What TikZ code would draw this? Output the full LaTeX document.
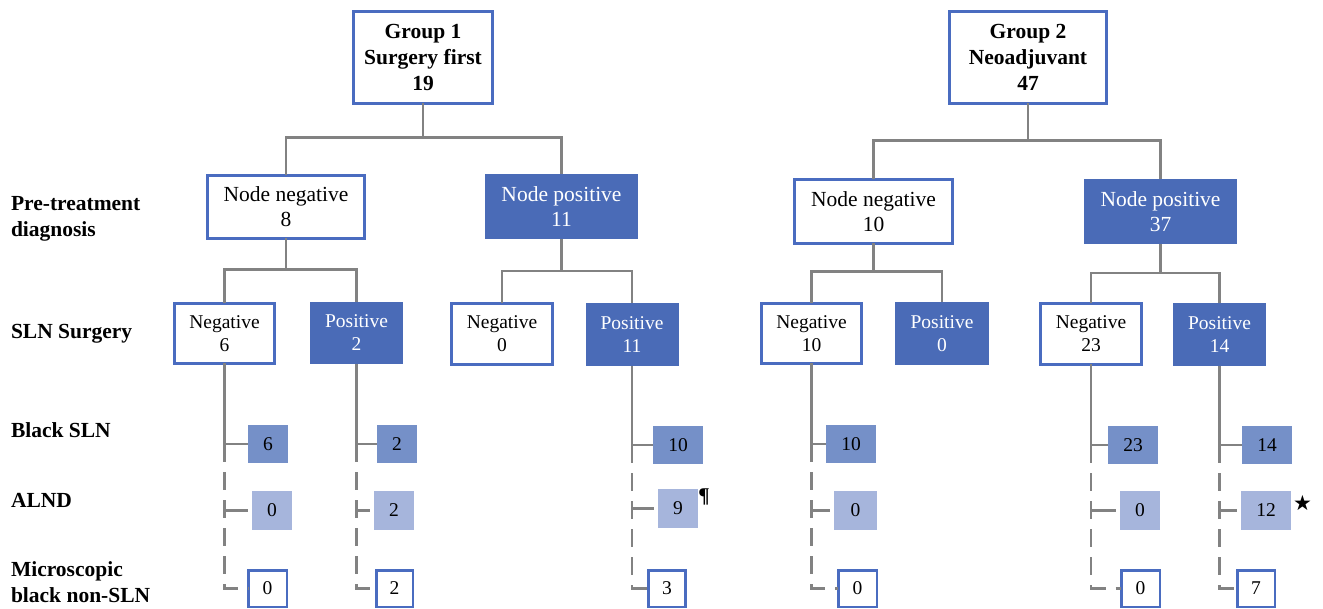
\documentclass[tikz,border=0pt]{standalone}
\usepackage{fontspec}
\setmainfont{Liberation Serif}
\newfontfamily\symfont{DejaVu Sans}
\definecolor{darkc}{HTML}{4A6BB7}
\definecolor{medc}{HTML}{7590C8}
\definecolor{lightc}{HTML}{A6B5DC}
\definecolor{bordc}{HTML}{4A6CC0}
\definecolor{linec}{HTML}{828282}
\newcommand{\ftitle}{\fontsize{21.5}{26}\selectfont\bfseries}
\newcommand{\fmid}{\fontsize{21.5}{25}\selectfont}
\newcommand{\fsln}{\fontsize{19.5}{23}\selectfont}
\begin{document}
\begin{tikzpicture}[x=1pt,y=-1pt,
  every node/.style={inner sep=0pt, outer sep=0pt, align=center},
  wbox/.style={draw=bordc, line width=2.8pt, fill=white},
  dbox/.style={fill=darkc, text=white},
  sbox/.style={fill=medc, font=\fsln, minimum height=38},
  abox/.style={fill=lightc, font=\fsln, minimum height=39},
  mbox/.style={draw=bordc, line width=2.5pt, fill=white, font=\fsln, minimum height=36.5},
  lab/.style={font=\ftitle, align=left},
  conn/.style={draw=linec, line width=2.7pt},
  dconn/.style={conn, dash pattern=on 18pt off 10pt}]
\useasboundingbox (0,0) rectangle (1323,609);

% top level
\node[wbox, font=\ftitle, minimum width=139, minimum height=92] (g1) at (423,57.5) {Group 1\\Surgery first\\19};
\node[wbox, font=\ftitle, minimum width=157, minimum height=92] (g2) at (1028,57.5) {Group 2\\Neoadjuvant\\47};

% pre-treatment diagnosis
\node[wbox, font=\fmid, minimum width=157, minimum height=63] (nn1) at (286,207) {Node negative\\8};
\node[dbox, font=\fmid, minimum width=153, minimum height=65] (np1) at (561.5,206.5) {Node positive\\11};
\node[wbox, font=\fmid, minimum width=158, minimum height=64] (nn2) at (873.5,211.5) {Node negative\\10};
\node[dbox, font=\fmid, minimum width=153, minimum height=65] (np2) at (1160.5,211.5) {Node positive\\37};

% SLN surgery
\node[wbox, font=\fsln, minimum width=100, minimum height=60] (a1) at (224.5,333.5) {Negative\\6};
\node[dbox, font=\fsln, minimum width=93, minimum height=62] (a2) at (356.5,333) {Positive\\2};
\node[wbox, font=\fsln, minimum width=101, minimum height=61] (a3) at (502,334) {Negative\\0};
\node[dbox, font=\fsln, minimum width=93, minimum height=63] (a4) at (632,334.5) {Positive\\11};
\node[wbox, font=\fsln, minimum width=100, minimum height=60] (a5) at (811.5,333.5) {Negative\\10};
\node[dbox, font=\fsln, minimum width=94, minimum height=63] (a6) at (942,333.5) {Positive\\0};
\node[wbox, font=\fsln, minimum width=101, minimum height=61] (a7) at (1091,334) {Negative\\23};
\node[dbox, font=\fsln, minimum width=93, minimum height=63] (a8) at (1219.5,334.5) {Positive\\14};

% Black SLN
\node[sbox, minimum width=40] (b1) at (268,444) {6};
\node[sbox, minimum width=40] (b2) at (397,444) {2};
\node[sbox, minimum width=50] (b4) at (678,445) {10};
\node[sbox, minimum width=50] (b5) at (851,444) {10};
\node[sbox, minimum width=50] (b7) at (1133,445) {23};
\node[sbox, minimum width=50] (b8) at (1267,445) {14};

% ALND
\node[abox, minimum width=40] (c1) at (272,510.5) {0};
\node[abox, minimum width=40] (c2) at (394,510.5) {2};
\node[abox, minimum width=40] (c4) at (678,508.5) {9};
\node[abox, minimum width=43] (c5) at (855.5,510.5) {0};
\node[abox, minimum width=40] (c7) at (1140,510.5) {0};
\node[abox, minimum width=50] (c8) at (1266,510.5) {12};

% Microscopic black non-SLN
\node[mbox, minimum width=38.5] (d1) at (267.5,588.5) {0};
\node[mbox, minimum width=36.5] (d2) at (394.5,588.5) {2};
\node[mbox, minimum width=37] (d4) at (667,588.5) {3};
\node[mbox, minimum width=38.5] (d5) at (857.5,588.5) {0};
\node[mbox, minimum width=38.5] (d7) at (1140.5,588.5) {0};
\node[mbox, minimum width=37.5] (d8) at (1256,588.5) {7};

% marks
\node[font=\fontsize{21}{24}\selectfont\bfseries] (pil) at (704,497) {¶};
\node[font=\symfont\fontsize{21}{24}\selectfont] (star) at (1302.5,503) {★};

% row labels
\node[lab, anchor=west] (l1) at (11,219) {Pre-treatment\\diagnosis};
\node[lab, anchor=base west] (l2) at (11,339) {SLN Surgery};
\node[lab, anchor=base west] (l3) at (11,438) {Black SLN};
\node[lab, anchor=base west] (l4) at (11,507) {ALND};
\node[lab, anchor=west] (l5) at (11,582) {Microscopic\\black non-SLN};

% tree connectors
\draw[conn] (g1.south) -- ++(0,34) coordinate (j1);
\draw[conn] (nn1.north) |- (j1) -| (np1.north);
\draw[conn] (g2.south) -- ++(0,37) coordinate (j2);
\draw[conn] (nn2.north) |- (j2) -| (np2.north);

\draw[conn] (nn1.south) -- ++(0,31) coordinate (k1);
\draw[conn] (a1.north) |- (k1) -| (a2.north);
\draw[conn] (np1.south) -- ++(0,32) coordinate (k2);
\draw[conn] (a3.north) |- (k2) -| (a4.north);
\draw[conn] (nn2.south) -- ++(0,28) coordinate (k3);
\draw[conn] (a5.north) |- (k3) -| (a6.north);
\draw[conn] (np2.south) -- ++(0,29) coordinate (k4);
\draw[conn] (a7.north) |- (k4) -| (a8.north);

\foreach \s/\b/\c/\d in {a1/b1/c1/d1, a2/b2/c2/d2, a4/b4/c4/d4, a5/b5/c5/d5, a7/b7/c7/d7, a8/b8/c8/d8} {
  \draw[conn] (\s.south) |- (\b.west);
  \draw[dconn] (\s.south |- \b.west) |- (\d.west);
  \draw[conn, shorten >=4pt] (\s.south |- \c.west) -- (\c.west);
}
\end{tikzpicture}
\end{document}
